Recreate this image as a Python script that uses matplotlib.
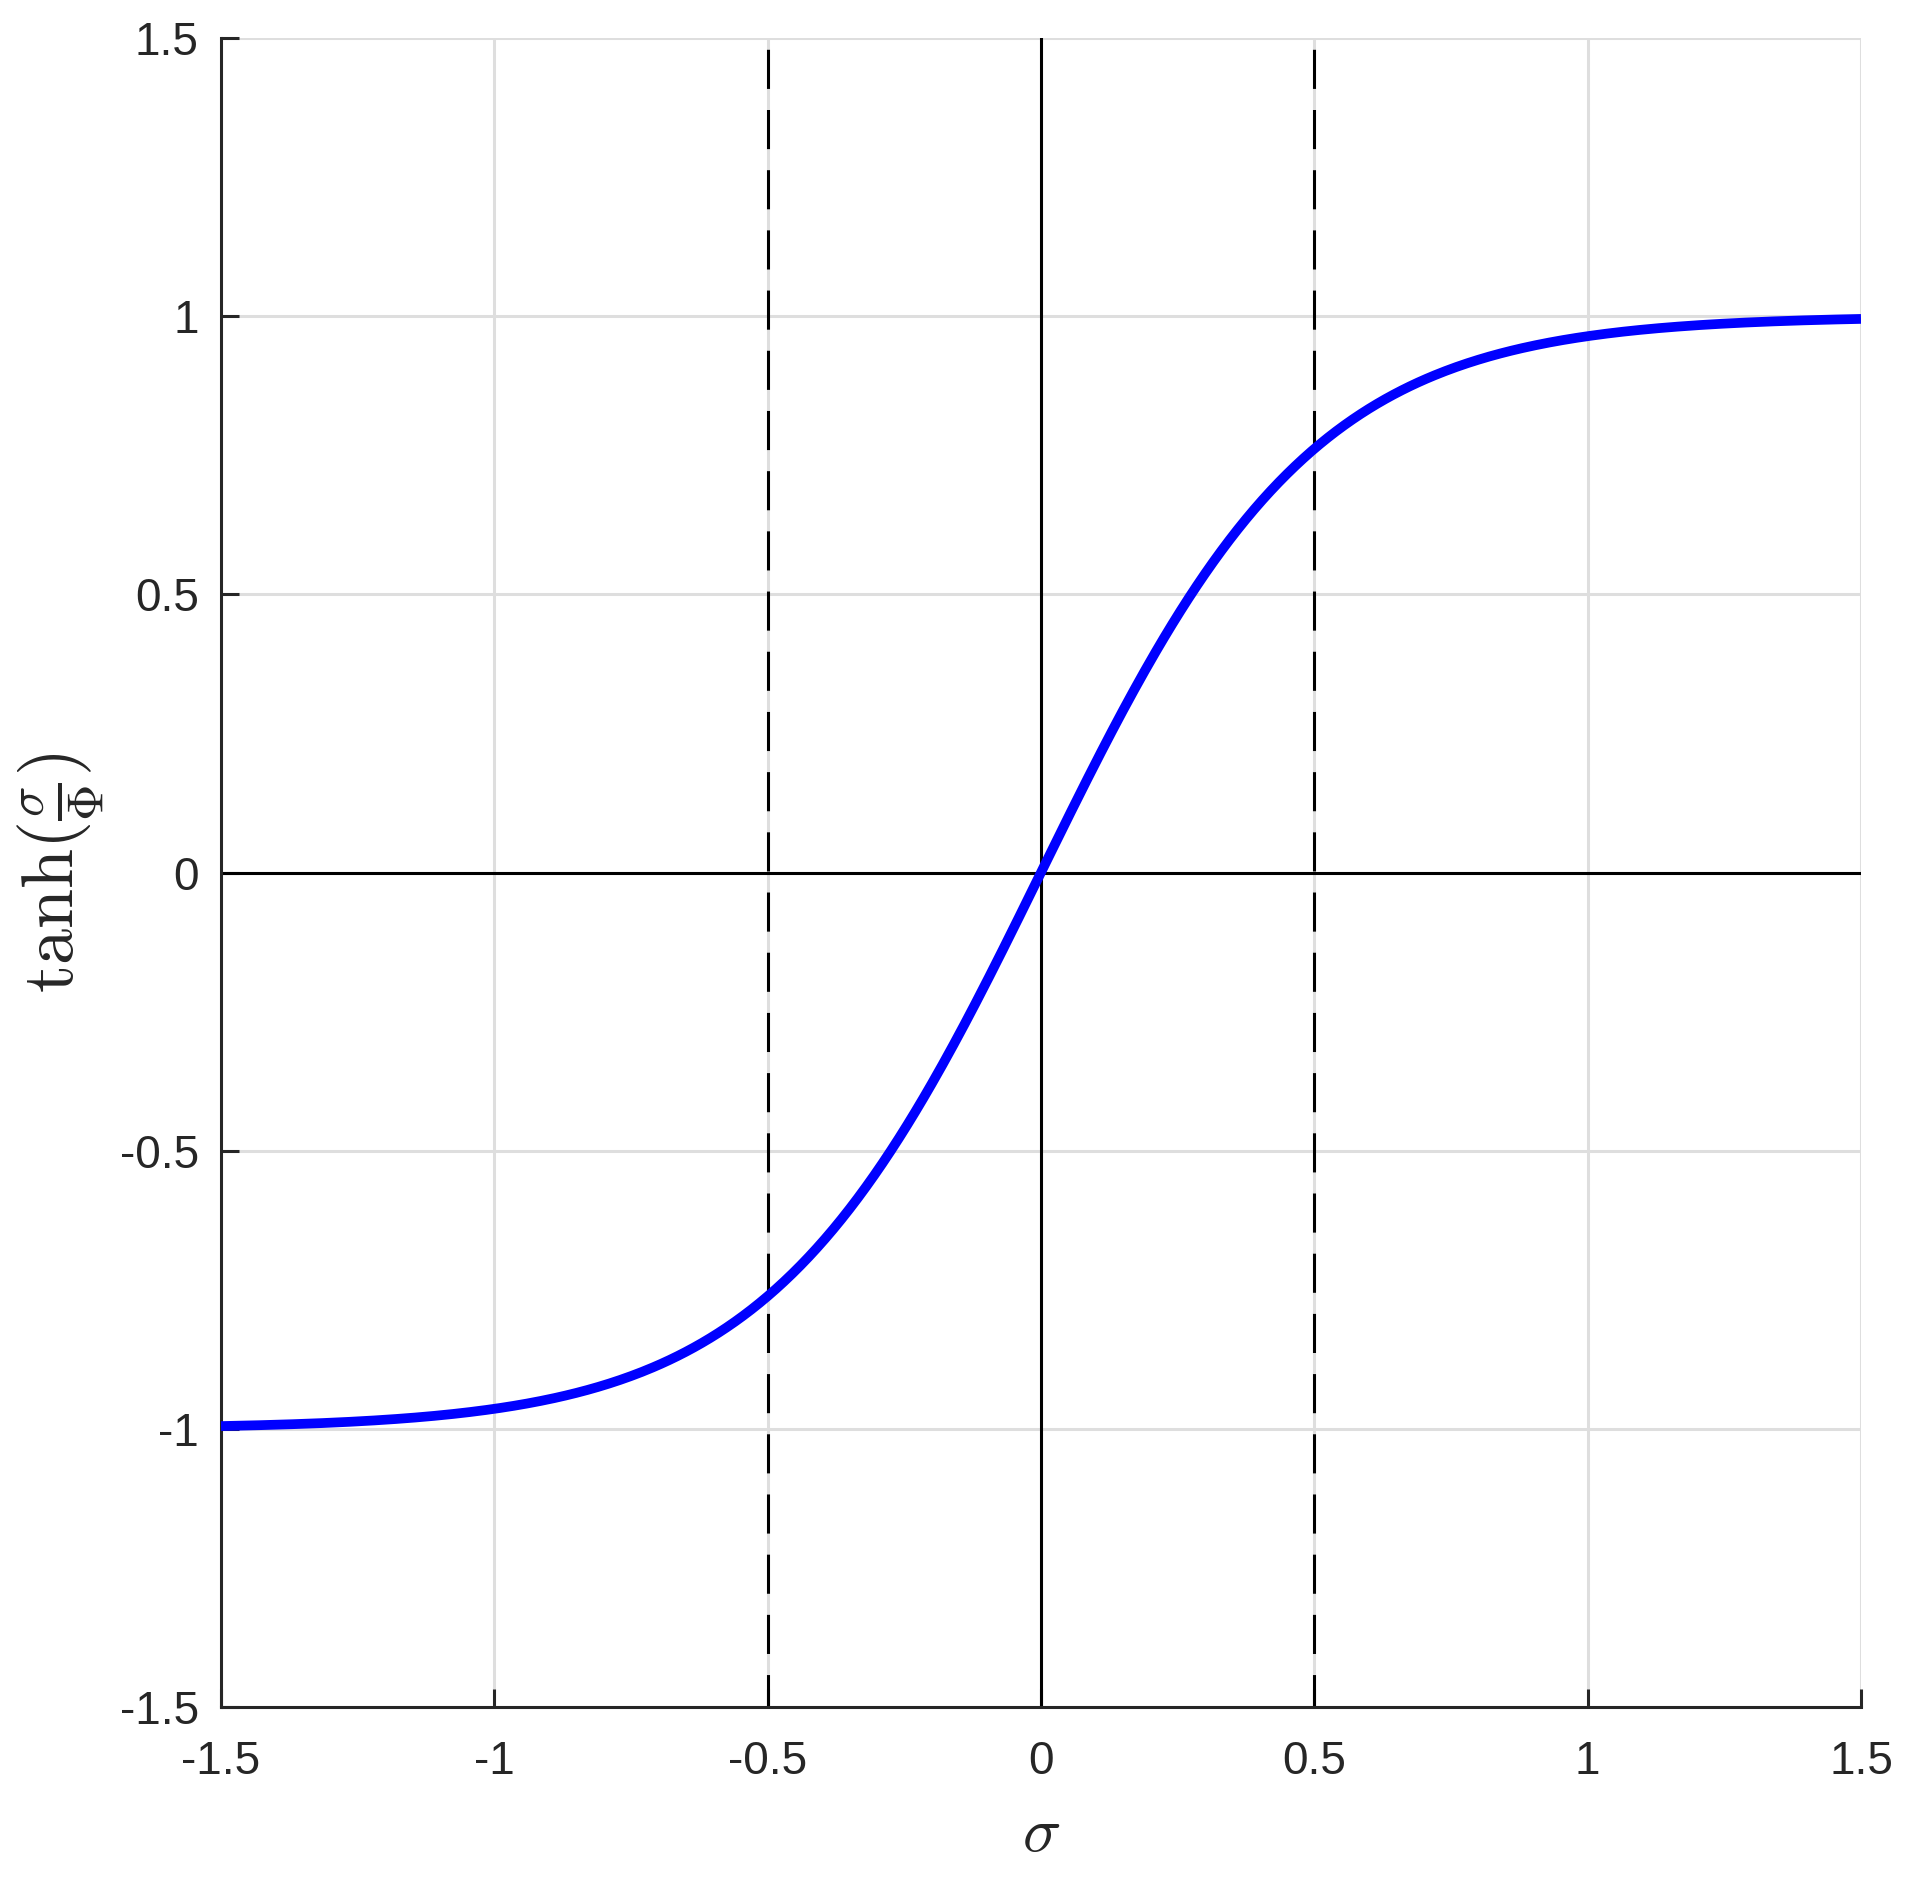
import numpy as np
import matplotlib
matplotlib.use("Agg")
import matplotlib.pyplot as plt

# Data
PHI = 0.5                                  # tanh(0.5/PHI) ~ 0.76 on the chart
sigma = np.linspace(-1.5, 1.5, 601)
curve = np.tanh(sigma / PHI)
dashed_x = [-0.5, 0.5]
xticks = [-1.5, -1, -0.5, 0, 0.5, 1, 1.5]
yticks = [-1.5, -1, -0.5, 0, 0.5, 1, 1.5]
xticklabels = ["-1.5", "-1", "-0.5", "0", "0.5", "1", "1.5"]
yticklabels = ["-1.5", "-1", "-0.5", "0", "0.5", "1", "1.5"]

plt.rcParams['mathtext.fontset'] = 'cm'
plt.rcParams['font.family'] = ['Liberation Sans', 'DejaVu Sans']

W, H = 1912, 1879
fig = plt.figure(figsize=(W / 100, H / 100), dpi=100)
ax = fig.add_axes([221 / W, 1 - 1707 / H, (1861 - 221) / W, (1707 - 38) / H])

ax.set_xlim(-1.5, 1.5)
ax.set_ylim(-1.5, 1.5)

ax.grid(True, color='#dedede', linewidth=2.2, zorder=0)
ax.set_axisbelow(True)

lw = 2.2
for xv in dashed_x:
    ax.plot([xv, xv], [1.5, -1.5], color='black', linewidth=lw,
            linestyle=(16.0, (12.8, 6.9)), zorder=2)
ax.plot([-1.5, 1.5], [0, 0], color='black', linewidth=lw, zorder=2)
ax.plot([0, 0], [-1.5, 1.5], color='black', linewidth=lw, zorder=2)

ax.plot(sigma, curve, color='#0000ff', linewidth=7.0, zorder=3,
        solid_capstyle='butt')

for s in ['top', 'right']:
    ax.spines[s].set_visible(False)
for s in ['left', 'bottom']:
    ax.spines[s].set_linewidth(2.2)
    ax.spines[s].set_color('#262626')

ax.set_xticks(xticks)
ax.set_xticklabels(xticklabels)
ax.set_yticks(yticks)
ax.set_yticklabels(yticklabels)
ax.tick_params(direction='in', length=13, width=2.2, color='#262626',
               labelcolor='#262626', labelsize=33)
ax.tick_params(axis='x', pad=24)
ax.tick_params(axis='y', pad=16)

ax.set_xlabel(r'$\sigma$', fontsize=46, color='#262626', labelpad=14)
ax.set_ylabel(r'$\tanh(\frac{\sigma}{\Phi})$', fontsize=52, color='#262626',
              labelpad=10)

fig.savefig('out.png', dpi=100, facecolor='white')
